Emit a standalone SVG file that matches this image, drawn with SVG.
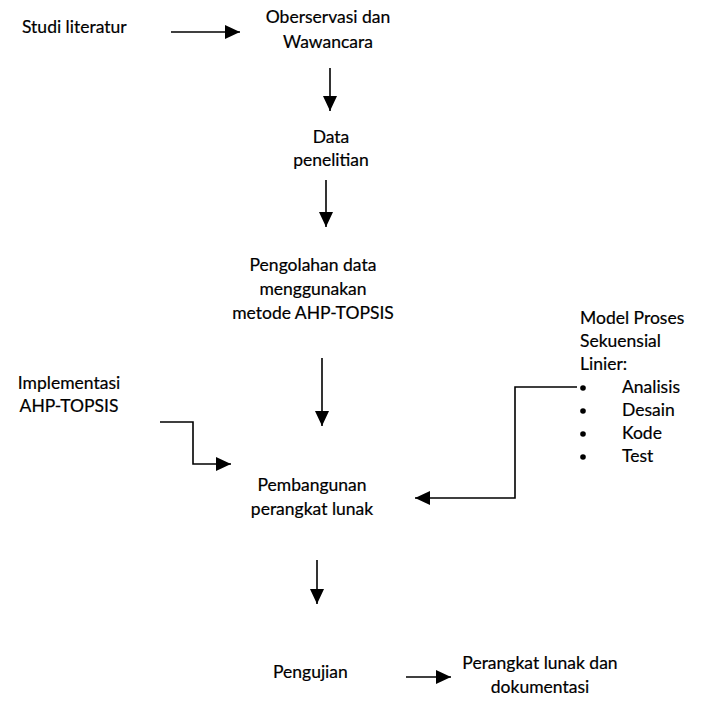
<svg xmlns="http://www.w3.org/2000/svg" width="701" height="702" viewBox="0 0 701 702">
<defs>
<marker id="ah" markerWidth="18" markerHeight="16" refX="15" refY="7" orient="auto" markerUnits="userSpaceOnUse" viewBox="0 0 18 16"><path d="M0,0 L15,7 L0,14 z" fill="#000"/></marker>
<style>
text{font-family:"Lato","Open Sans","Liberation Sans",sans-serif;font-size:17.5px;fill:#000;stroke:#000;stroke-width:0.2}
.c{text-anchor:middle}
.ln{fill:none;stroke:#000;stroke-width:1.6}
</style>
</defs>
<rect width="701" height="702" fill="#fff"/>
<g id="studi"><text x="22" y="33">Studi literatur</text></g>
<g id="observasi"><text class="c" x="328" y="23">Oberservasi dan</text><text class="c" x="328" y="48">Wawancara</text></g>
<g id="data"><text class="c" x="331" y="143">Data</text><text class="c" x="331" y="166">penelitian</text></g>
<g id="pengolahan"><text class="c" x="313" y="271">Pengolahan data</text><text class="c" x="313" y="295">menggunakan</text><text class="c" x="313" y="319">metode AHP-TOPSIS</text></g>
<g id="model"><text x="580" y="324">Model Proses</text><text x="580" y="347">Sekuensial</text><text x="580" y="370">Linier:</text>
<circle cx="583" cy="388" r="2.8"/><text x="622" y="393">Analisis</text>
<circle cx="583" cy="411" r="2.8"/><text x="622" y="416">Desain</text>
<circle cx="583" cy="434" r="2.8"/><text x="622" y="439">Kode</text>
<circle cx="583" cy="457" r="2.8"/><text x="622" y="462">Test</text></g>
<g id="implementasi"><text class="c" x="69" y="389">Implementasi</text><text class="c" x="69" y="412">AHP-TOPSIS</text></g>
<g id="pembangunan"><text class="c" x="312" y="491">Pembangunan</text><text class="c" x="312" y="515">perangkat lunak</text></g>
<g id="pengujian"><text x="273" y="678">Pengujian</text></g>
<g id="perangkat"><text class="c" x="540" y="669">Perangkat lunak dan</text><text class="c" x="540" y="693">dokumentasi</text></g>
<g id="connectors">
<line class="ln" x1="171" y1="32" x2="240" y2="32" marker-end="url(#ah)"/>
<line class="ln" x1="330" y1="68" x2="330" y2="111" marker-end="url(#ah)"/>
<line class="ln" x1="326" y1="180" x2="326" y2="227" marker-end="url(#ah)"/>
<line class="ln" x1="322" y1="358" x2="322" y2="426" marker-end="url(#ah)"/>
<polyline class="ln" points="160,422 193,422 193,464 231,464" marker-end="url(#ah)"/>
<polyline class="ln" points="577,387 515,387 515,498 415,498" marker-end="url(#ah)"/>
<line class="ln" x1="317" y1="560" x2="317" y2="604" marker-end="url(#ah)"/>
<line class="ln" x1="406" y1="677" x2="451" y2="677" marker-end="url(#ah)"/>
</g>
</svg>
